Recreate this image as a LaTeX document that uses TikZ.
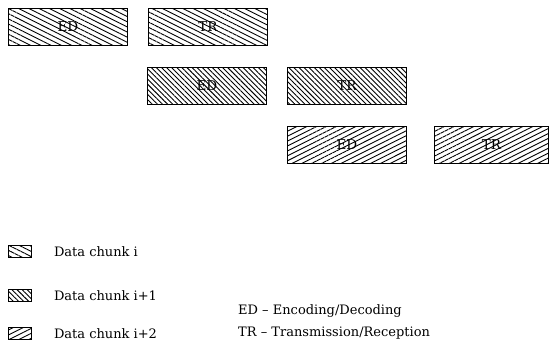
\documentclass[tikz,border=0pt]{standalone}
\usepackage{fontspec}
\setmainfont{DejaVu Serif}
\usepackage{tikz}
\usetikzlibrary{patterns.meta, positioning}

\begin{document}
\begin{tikzpicture}[x=1pt, y=-1pt,
  chunk/.style={draw, line width=1pt, minimum width=119pt, minimum height=37pt,
                inner sep=0pt, anchor=north west, font=\fontsize{13.5}{16}\selectfont},
  keybox/.style={draw, line width=0.8pt, minimum width=23pt, minimum height=12pt,
                 inner sep=0pt, anchor=north west},
  keytext/.style={font=\fontsize{13}{16}\selectfont, anchor=west, inner sep=0pt},
  hatchA/.style={pattern={Lines[angle=-26.6, distance=4.6pt, line width=0.9pt]}},
  hatchB/.style={pattern={Lines[angle=-45, distance=3.6pt, line width=0.9pt]}},
  hatchC/.style={pattern={Lines[angle=26.6, distance=4.4pt, line width=0.9pt]}},
]
  \useasboundingbox (0,0) rectangle (549,349);

  % --- pipelined chunks ---
  \node[chunk, hatchA] (ed1) at (8,8)    {ED};
  \node[chunk, hatchA] (tr1) at (148,8)  {TR};
  \node[chunk, hatchB] (ed2) at (147,67) {ED};
  \node[chunk, hatchB] (tr2) at (287,67) {TR};
  \node[chunk, hatchC] (ed3) at (287,126) {ED};
  \node[chunk, hatchC, minimum width=114pt] (tr3) at (434,126) {TR};

  % --- legend ---
  \node[keybox, hatchA] (key1) at (8,245) {};
  \node[keybox, hatchB] (key2) at (8,289) {};
  \node[keybox, hatchC] (key3) at (8,327) {};
  \node[keytext, right=22pt of key1] (lab1) {Data chunk i};
  \node[keytext, right=22pt of key2] (lab2) {Data chunk i+1};
  \node[keytext, right=22pt of key3] (lab3) {Data chunk i+2};

  \node[keytext] (abbED) at (238,311) {ED -- Encoding/Decoding};
  \node[keytext] (abbTR) at (238,333) {TR -- Transmission/Reception};

\end{tikzpicture}
\end{document}
